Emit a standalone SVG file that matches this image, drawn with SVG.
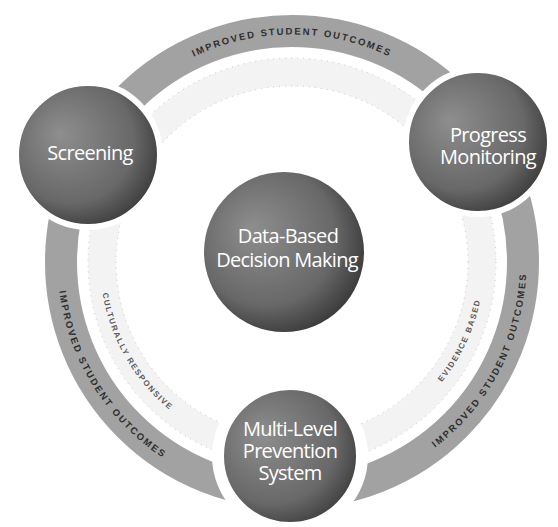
<svg xmlns="http://www.w3.org/2000/svg" width="558" height="527" viewBox="0 0 558 527">
<style>
.ring{fill:none;stroke:#a2a2a2;stroke-width:32}
.inner{fill:none;stroke:#f3f3f3;stroke-width:28}
.dots{fill:none;stroke:#c4c4c4;stroke-width:1;stroke-dasharray:1 5}
.band{font-family:"Liberation Sans",Arial,sans-serif;font-weight:bold;font-size:9.5px;letter-spacing:1.9px;fill:#2e2e2e}
.value{font-family:"Liberation Sans",Arial,sans-serif;font-weight:bold;font-size:8px;letter-spacing:1.5px;fill:#5a5a5a}
.ball{fill:url(#ballGrad);stroke:#fff;stroke-width:6}
.lbl{font-family:"Open Sans","Liberation Sans",sans-serif;font-size:20px;letter-spacing:-0.7px;fill:#fff;text-anchor:middle}
</style>
<defs>
<radialGradient id="ballGrad" cx="0.42" cy="0.42" r="0.62" fx="0.3" fy="0.35">
<stop offset="0" stop-color="#8e8e8e"/>
<stop offset="0.7" stop-color="#686868"/>
<stop offset="1" stop-color="#3a3a3a"/>
</radialGradient>
<path id="pTop" d="M 64.5 262 A 227.5 227.5 0 0 1 519.5 262"/>
<path id="pLeft" d="M 71.6 181.8 A 234.5 234.5 0 0 0 267.5 495.2"/>
<path id="pRight" d="M 332.7 492.9 A 234.5 234.5 0 0 0 504.5 162.9"/>
<path id="pCult" d="M 125.7 166 A 192 192 0 0 0 292 454"/>
<path id="pEvid" d="M 308.7 453.3 A 192 192 0 0 0 449.3 151.9"/>
</defs>
<g id="connectors">
<circle class="inner" cx="292" cy="262" r="190"/>
<circle class="dots" cx="292" cy="262" r="176"/>
<circle class="dots" cx="292" cy="262" r="204"/>
<circle class="ring" cx="292" cy="262" r="231"/>
<text class="band"><textPath href="#pTop" startOffset="50%" text-anchor="middle">IMPROVED STUDENT OUTCOMES</textPath></text>
<text class="band"><textPath href="#pLeft" startOffset="50%" text-anchor="middle">IMPROVED STUDENT OUTCOMES</textPath></text>
<text class="band"><textPath href="#pRight" startOffset="50%" text-anchor="middle">IMPROVED STUDENT OUTCOMES</textPath></text>
<text class="value"><textPath href="#pCult" startOffset="50%" text-anchor="middle">CULTURALLY RESPONSIVE</textPath></text>
<text class="value"><textPath href="#pEvid" startOffset="50%" text-anchor="middle">EVIDENCE BASED</textPath></text>
</g>
<g id="screening">
<circle class="ball" cx="88" cy="155" r="72"/>
<text class="lbl" x="90" y="160">Screening</text>
</g>
<g id="progress-monitoring">
<circle class="ball" cx="478" cy="142" r="72"/>
<text class="lbl" x="488" y="142">Progress</text>
<text class="lbl" x="488" y="164">Monitoring</text>
</g>
<g id="data-based-decision-making">
<circle class="ball" cx="284" cy="252" r="80" style="stroke:none"/>
<text class="lbl" x="288" y="243">Data-Based</text>
<text class="lbl" x="287" y="267">Decision Making</text>
</g>
<g id="multi-level-prevention-system">
<circle class="ball" cx="290" cy="456" r="72" style="stroke-width:12"/>
<text class="lbl" x="290" y="436">Multi-Level</text>
<text class="lbl" x="290" y="458">Prevention</text>
<text class="lbl" x="290" y="480">System</text>
</g>
</svg>
